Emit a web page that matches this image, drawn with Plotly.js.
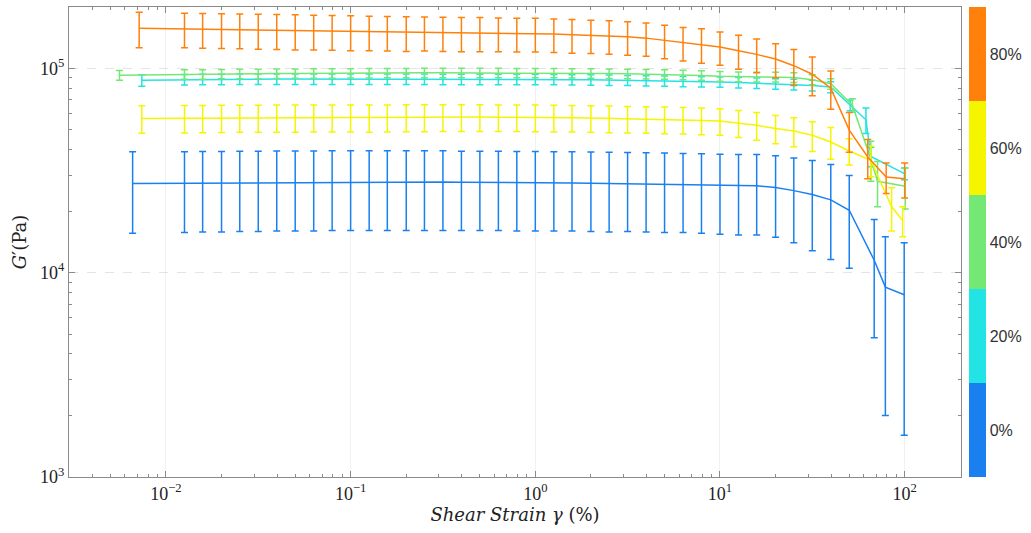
<!DOCTYPE html>
<html>
<head>
<meta charset="utf-8">
<script src="https://cdn.plot.ly/plotly-3.0.1.min.js"></script>
<style>
  html, body { margin: 0; padding: 0; background: #ffffff; }
  #chart { width: 1031px; height: 533px; }
</style>
</head>
<body>
<div id="chart"></div>
<script>
// ---------------- DATA (G' in kPa, strain in %) ----------------
const levels = [0, 20, 40, 60, 80];
const levelLabels = ['0%', '20%', '40%', '60%', '80%'];
const levelColors = ['#1a80f0', '#22e4e4', '#74e874', '#f5f500', '#ff800a'];

const strain0 = [0.0066, 0.0126, 0.0158, 0.0200, 0.0251, 0.0316, 0.0398, 0.0501, 0.0631, 0.0794, 0.100, 0.126, 0.158, 0.200, 0.251, 0.316, 0.398, 0.501, 0.631, 0.794, 1.00, 1.26, 1.58, 2.00, 2.51, 3.16, 3.98, 5.01, 6.31, 7.94, 10.0, 12.6, 15.8, 20.0, 25.1, 31.6, 39.8, 50.1, 68.4, 78.6, 99.4];
const g0 = [27.3, 27.4, 27.5, 27.5, 27.6, 27.6, 27.7, 27.7, 27.7, 27.8, 27.8, 27.8, 27.8, 27.8, 27.8, 27.8, 27.7, 27.7, 27.7, 27.6, 27.6, 27.5, 27.5, 27.4, 27.3, 27.3, 27.2, 27.1, 27.0, 26.9, 26.7, 26.6, 26.6, 26.1, 25.2, 24.1, 22.7, 20.2, 11.5, 8.5, 7.8];
const err0 = [11.7, 11.7, 11.7, 11.7, 11.7, 11.7, 11.7, 11.7, 11.7, 11.7, 11.7, 11.7, 11.7, 11.7, 11.7, 11.7, 11.6, 11.6, 11.6, 11.6, 11.6, 11.5, 11.5, 11.5, 11.5, 11.4, 11.4, 11.4, 11.3, 11.3, 11.3, 11.3, 11.3, 11.2, 11.2, 11.3, 11.1, 9.7, 6.7, 6.5, 6.2];

const strain20 = [0.0074, 0.0126, 0.0158, 0.0200, 0.0251, 0.0316, 0.0398, 0.0501, 0.0631, 0.0794, 0.100, 0.126, 0.158, 0.200, 0.251, 0.316, 0.398, 0.501, 0.631, 0.794, 1.00, 1.26, 1.58, 2.00, 2.51, 3.16, 3.98, 5.01, 6.31, 7.94, 10.0, 12.6, 15.8, 20.0, 25.1, 31.6, 39.8, 50.7, 61.7, 65.6, 99.8];
const g20 = [87.4, 88.0, 88.3, 88.4, 88.5, 88.5, 88.6, 88.6, 88.6, 88.6, 88.6, 88.6, 88.6, 88.5, 88.5, 88.4, 88.4, 88.3, 88.3, 88.3, 88.3, 88.2, 88.0, 87.8, 87.6, 87.3, 87.0, 86.7, 86.3, 85.9, 85.7, 85.2, 84.6, 84.0, 83.3, 82.5, 81.0, 66.0, 56.0, 37.0, 30.5];
const err20 = [5.7, 5.2, 5.2, 5.2, 5.2, 5.2, 5.2, 5.2, 5.2, 5.2, 5.2, 5.2, 5.2, 5.2, 5.2, 5.2, 5.2, 5.2, 5.2, 5.2, 5.2, 5.1, 5.1, 5.1, 5.1, 5.0, 5.0, 5.0, 5.0, 5.0, 5.0, 5.0, 5.0, 5.0, 5.0, 5.0, 5.0, 4.0, 8.0, 4.0, 2.0];

const strain40 = [0.0056, 0.0126, 0.0158, 0.0200, 0.0251, 0.0316, 0.0398, 0.0501, 0.0631, 0.0794, 0.100, 0.126, 0.158, 0.200, 0.251, 0.316, 0.398, 0.501, 0.631, 0.794, 1.00, 1.26, 1.58, 2.00, 2.51, 3.16, 3.98, 5.01, 6.31, 7.94, 10.0, 12.6, 15.8, 20.0, 25.1, 31.6, 39.8, 52.1, 65.6, 71.3, 100.8];
const g40 = [92.5, 93.5, 93.5, 93.8, 94.0, 94.0, 94.2, 94.3, 94.5, 94.5, 94.6, 94.7, 94.8, 94.8, 95.0, 95.0, 95.0, 95.0, 95.0, 94.9, 94.9, 94.8, 94.6, 94.4, 94.2, 94.0, 93.7, 93.3, 92.8, 92.3, 91.5, 91.0, 90.7, 90.7, 90.2, 88.0, 84.0, 66.0, 36.0, 28.0, 26.5];
const err40 = [5.0, 5.0, 5.0, 5.0, 5.0, 5.0, 5.0, 5.0, 5.0, 5.0, 5.0, 5.0, 5.0, 5.0, 5.0, 5.0, 5.0, 5.0, 5.0, 5.0, 5.0, 5.0, 5.0, 5.0, 5.0, 5.0, 5.0, 5.0, 5.0, 5.0, 5.0, 5.0, 5.0, 5.0, 5.0, 5.0, 5.0, 5.0, 8.0, 7.0, 6.0];

const strain60 = [0.0074, 0.0126, 0.0158, 0.0200, 0.0251, 0.0316, 0.0398, 0.0501, 0.0631, 0.0794, 0.100, 0.126, 0.158, 0.200, 0.251, 0.316, 0.398, 0.501, 0.631, 0.794, 1.00, 1.26, 1.58, 2.00, 2.51, 3.16, 3.98, 5.01, 6.31, 7.94, 10.0, 12.6, 15.8, 20.0, 25.1, 31.6, 39.8, 50.1, 65.6, 85.0, 97.5];
const g60 = [56.8, 57.0, 57.1, 57.2, 57.3, 57.3, 57.4, 57.4, 57.5, 57.5, 57.5, 57.4, 57.5, 57.6, 57.6, 57.7, 57.7, 57.7, 57.6, 57.6, 57.5, 57.4, 57.3, 57.1, 56.9, 56.7, 56.5, 56.3, 56.0, 55.6, 55.2, 54.0, 52.6, 50.7, 49.3, 47.0, 43.6, 39.4, 35.5, 21.0, 18.0];
const err60 = [8.7, 8.7, 8.7, 8.7, 8.7, 8.7, 8.7, 8.7, 8.7, 8.7, 8.7, 8.7, 8.7, 8.7, 8.7, 8.7, 8.7, 8.6, 8.6, 8.6, 8.6, 8.6, 8.5, 8.5, 8.5, 8.4, 8.4, 8.4, 8.3, 8.3, 8.2, 8.2, 8.1, 8.0, 8.0, 7.8, 7.7, 5.8, 6.0, 5.0, 3.0];

const strain80 = [0.00716, 0.0126, 0.0158, 0.0200, 0.0251, 0.0316, 0.0398, 0.0501, 0.0631, 0.0794, 0.100, 0.126, 0.158, 0.200, 0.251, 0.316, 0.398, 0.501, 0.631, 0.794, 1.00, 1.26, 1.58, 2.00, 2.51, 3.16, 3.98, 5.01, 6.31, 7.94, 10.0, 12.6, 15.8, 20.0, 25.1, 31.6, 39.8, 50.1, 63.1, 79.4, 100.0];
const g80 = [157, 156, 155.5, 155, 154.5, 154, 153.5, 153, 152.5, 152, 151.5, 151, 150.5, 150, 150, 149.5, 149, 149, 148.5, 148, 148, 147, 146, 145, 144, 142.5, 140.5, 137, 133.5, 131, 127, 122, 117, 111, 103, 93.5, 80, 49.8, 36.8, 29.4, 28.8];
const err80 = [31, 30, 30, 30, 30, 30, 30, 30, 29.5, 29.5, 29.5, 29, 29, 29, 28.5, 28.5, 28.5, 28.5, 28, 28, 28, 27.5, 27.5, 27, 27, 26.5, 26, 25.5, 25, 25, 23.5, 23, 22, 21, 20.5, 20, 17, 11, 8, 5, 5.6];

const xTickVals = [0.01, 0.1, 1, 10, 100];
const xTickText = ['10<sup>−2</sup>', '10<sup>−1</sup>', '10<sup>0</sup>', '10<sup>1</sup>', '10<sup>2</sup>'];
const yTickVals = [1e3, 1e4, 1e5];
const yTickText = ['10<sup>3</sup>', '10<sup>4</sup>', '10<sup>5</sup>'];

// ---------------- BUILD ----------------
const series = [
  [strain0, g0, err0],
  [strain20, g20, err20],
  [strain40, g40, err40],
  [strain60, g60, err60],
  [strain80, g80, err80]
];
const kPa = v => v.map(d => d * 1000);

const traces = series.map((s, i) => ({
  type: 'scatter',
  mode: 'lines',
  x: s[0],
  y: kPa(s[1]),
  name: levelLabels[i],
  showlegend: false,
  line: { color: levelColors[i], width: 1.5 },
  error_y: { type: 'data', array: kPa(s[2]), visible: true, color: levelColors[i], thickness: 1.5, width: 3.5 }
}));

// discrete colour scale for the colour bar
const n = levels.length;
const cscale = [];
levelColors.forEach((c, i) => { cscale.push([i / n, c]); cscale.push([(i + 1) / n, c]); });
const step = levels[1] - levels[0];

traces.push({
  type: 'scatter',
  mode: 'markers',
  x: [null],
  y: [null],
  showlegend: false,
  hoverinfo: 'skip',
  marker: {
    color: [levels[0]],
    colorscale: cscale,
    cmin: levels[0] - step / 2,
    cmax: levels[n - 1] + step / 2,
    showscale: true,
    colorbar: {
      x: 1.009, xanchor: 'left', y: 0.5, yanchor: 'middle',
      len: 1, lenmode: 'fraction', thickness: 17, thicknessmode: 'pixels',
      xpad: 0, ypad: 0, outlinewidth: 0,
      tickmode: 'array', tickvals: levels, ticktext: levelLabels,
      ticks: '', ticklen: 3,
      tickfont: { family: 'Liberation Sans, Arial, sans-serif', size: 16, color: '#333333' }
    }
  }
});

const serif = 'Liberation Serif, Times New Roman, serif';
const titleSerif = 'DejaVu Serif, Liberation Serif, serif';
const axisCommon = {
  type: 'log',
  ticks: 'inside',
  ticklen: 6,
  tickwidth: 1,
  tickcolor: '#8a8a8a',
  showline: true,
  linecolor: '#8a8a8a',
  linewidth: 1,
  mirror: 'allticks',
  zeroline: false,
  tickmode: 'array',
  tickfont: { family: serif, size: 18, color: '#222222' },
  minor: { ticks: 'inside', ticklen: 3, tickcolor: '#8a8a8a', dtick: 'D1', showgrid: false }
};

const layout = {
  width: 1031,
  height: 533,
  margin: { l: 69, r: 70, t: 7, b: 56 },
  paper_bgcolor: '#ffffff',
  plot_bgcolor: '#ffffff',
  showlegend: false,
  xaxis: Object.assign({}, axisCommon, {
    range: [-2.525, 2.305],
    tickvals: xTickVals,
    ticktext: xTickText,
    showgrid: true,
    gridcolor: '#f1f1f1',
    title: { text: '<i>Shear Strain γ</i> (%)', font: { family: titleSerif, size: 18, color: '#222222' }, standoff: 4 }
  }),
  yaxis: Object.assign({}, axisCommon, {
    range: [3, 5.30],
    tickvals: yTickVals,
    ticktext: yTickText,
    showgrid: true,
    gridcolor: '#e4e4e4',
    griddash: 'dash',
    title: { text: '<i>G</i>′(Pa)', font: { family: titleSerif, size: 18, color: '#222222' }, standoff: 8 }
  })
};

Plotly.newPlot('chart', traces, layout, { displayModeBar: false, staticPlot: true });
</script>
</body>
</html>
